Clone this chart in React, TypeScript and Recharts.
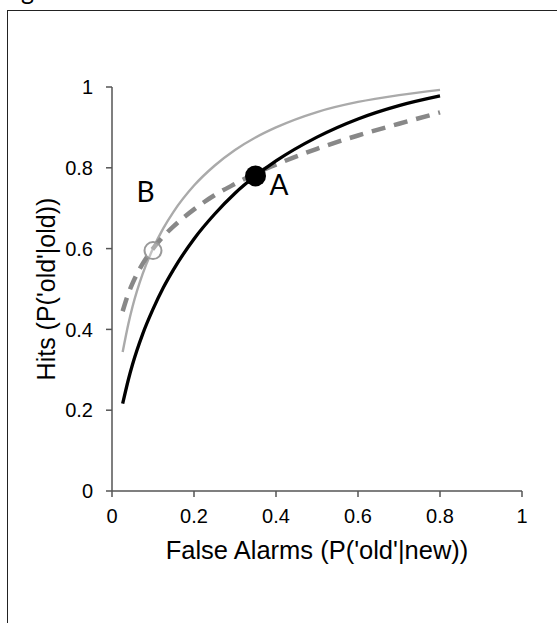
import React from 'react';
import { ComposedChart, Line, Scatter, XAxis, YAxis, LabelList } from 'recharts';

const falseAlarms = [0.026, 0.04, 0.05, 0.075, 0.1, 0.125, 0.15, 0.2, 0.25, 0.3, 0.35, 0.4, 0.5, 0.6, 0.7, 0.8];
const hitsBlack = [0.216, 0.276, 0.313, 0.389, 0.45, 0.503, 0.548, 0.624, 0.685, 0.737, 0.78, 0.817, 0.876, 0.921, 0.954, 0.978];
const hitsLightGray = [0.344, 0.414, 0.456, 0.538, 0.6, 0.65, 0.691, 0.756, 0.805, 0.844, 0.875, 0.9, 0.938, 0.963, 0.98, 0.993];
const hitsDashed = [0.445, 0.489, 0.514, 0.563, 0.6, 0.63, 0.655, 0.697, 0.732, 0.76, 0.786, 0.808, 0.847, 0.88, 0.909, 0.937];

const pointA = [{ x: 0.35, y: 0.78, name: 'A' }];
const pointB = [{ x: 0.1, y: 0.595, name: 'B' }];

const xTicks = [0, 0.2, 0.4, 0.6, 0.8, 1];
const yTicks = [0, 0.2, 0.4, 0.6, 0.8, 1];

const rows = falseAlarms.map((fa, i) => ({
  x: fa,
  black: hitsBlack[i],
  light: hitsLightGray[i],
  dashed: hitsDashed[i],
}));

const fmt = (v: number) => String(v);
const AX_FONT = "'Liberation Sans', Arial, sans-serif";
const LETTER_FONT = "Lato, 'Open Sans', sans-serif";

const ALabel = (props: any) => {
  const { x, y } = props;
  return (
    <text x={x + 28} y={y + 24} textAnchor="middle" fontFamily={LETTER_FONT} fontSize={28} fill="#000">
      A
    </text>
  );
};
const BLabel = (props: any) => {
  const { x, y } = props;
  return (
    <text x={x - 3} y={y - 44} textAnchor="middle" fontFamily={LETTER_FONT} fontSize={28} fill="#000">
      B
    </text>
  );
};

export default function App() {
  return (
    <div style={{ position: 'absolute', left: 0, top: 0, width: 557, height: 623, overflow: 'hidden', background: '#fff' }}>
      <div style={{ position: 'absolute', left: 1, top: -25, fontFamily: LETTER_FONT, fontSize: 25, color: '#000', whiteSpace: 'nowrap' }}>Figure 2.</div>
      <div style={{ position: 'absolute', left: 7, top: 10, width: 600, height: 700, border: '1px solid #222' }} />
      <div style={{ position: 'absolute', left: 0, top: 0 }}>
        <ComposedChart width={557} height={623} data={rows} margin={{ top: 87, right: 35, bottom: 102, left: 52 }}>
          <XAxis
            type="number"
            dataKey="x"
            domain={[0, 1]}
            ticks={xTicks}
            tickFormatter={fmt}
            height={30}
            stroke="#555"
            strokeWidth={1.5}
            tickSize={6}
            tick={{ fill: '#000', fontSize: 20, fontFamily: AX_FONT, dy: 10 }}
            label={{ value: "False Alarms (P('old'|new))", position: 'bottom', offset: 20, style: { fill: '#000', fontSize: 25.5, fontFamily: AX_FONT } }}
            allowDataOverflow
          />
          <YAxis
            type="number"
            domain={[0, 1]}
            ticks={yTicks}
            tickFormatter={fmt}
            width={60}
            stroke="#555"
            strokeWidth={1.5}
            tickSize={6}
            tick={{ fill: '#000', fontSize: 20, fontFamily: AX_FONT, dx: -11 }}
            label={{ value: "Hits (P('old'|old))", angle: -90, position: 'insideLeft', offset: -6, style: { fill: '#000', fontSize: 25, fontFamily: AX_FONT, textAnchor: 'middle' } }}
            allowDataOverflow
          />
          <XAxis xAxisId="top" orientation="top" type="number" dataKey="x" domain={[0, 1]} tick={false} tickLine={false} height={0} stroke="#888" strokeWidth={1.5} />
          <YAxis yAxisId="right" orientation="right" type="number" domain={[0, 1]} tick={false} tickLine={false} width={0} stroke="#888" strokeWidth={1.5} />
          <Line type="monotone" dataKey="light" stroke="#aaaaaa" strokeWidth={2.4} dot={false} isAnimationActive={false} />
          <Line type="monotone" dataKey="dashed" stroke="#888888" strokeWidth={4.5} strokeDasharray="14 9" dot={false} isAnimationActive={false} />
          <Line type="monotone" dataKey="black" stroke="#000" strokeWidth={3.3} dot={false} isAnimationActive={false} />
          <Scatter data={pointA} dataKey="y" fill="#000" shape={(p: any) => <circle cx={p.cx} cy={p.cy} r={10.5} fill="#000" />} isAnimationActive={false}>
            <LabelList dataKey="name" content={ALabel} />
          </Scatter>
          <Scatter data={pointB} dataKey="y" shape={(p: any) => <circle cx={p.cx} cy={p.cy} r={8.5} fill="#fff" fillOpacity={0.3} stroke="#999" strokeWidth={2} />} isAnimationActive={false}>
            <LabelList dataKey="name" content={BLabel} />
          </Scatter>
        </ComposedChart>
      </div>
    </div>
  );
}
